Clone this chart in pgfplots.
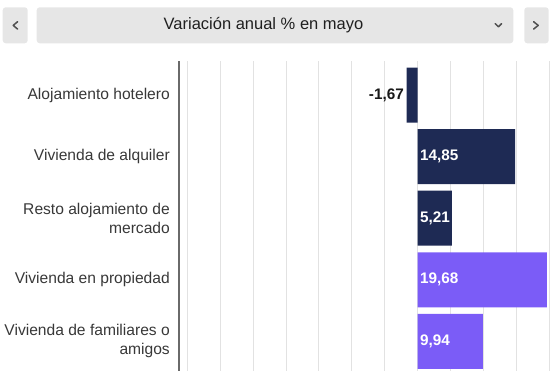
\documentclass[border=0pt]{standalone}
\usepackage{pgfplots}
\pgfplotsset{compat=1.18}
\usepackage{fontspec}
\setmainfont{Liberation Sans}
\definecolor{navy}{HTML}{1E2A54}
\definecolor{violet}{HTML}{7B5CF7}
\definecolor{btn}{HTML}{E6E6E6}
\definecolor{lbl}{HTML}{383838}
\definecolor{gridc}{HTML}{E2E2E2}
\definecolor{axc}{HTML}{6A6A6A}
\definecolor{chev}{HTML}{505050}
\begin{document}
\begin{tikzpicture}
\path[use as bounding box] (0pt,0pt) rectangle (560pt,371pt);
% header
\fill[btn, rounded corners=3pt] (2.7pt,327.7pt) rectangle (27.7pt,363.7pt);
\fill[btn, rounded corners=3pt] (36.7pt,327.7pt) rectangle (513.3pt,363.7pt);
\fill[btn, rounded corners=3pt] (524.3pt,327.7pt) rectangle (548.7pt,363.7pt);
\draw[chev, line width=1.5pt, line cap=round, line join=round] (17.6pt,349.3pt) -- (13.2pt,345.6pt) -- (17.6pt,341.9pt);
\draw[chev, line width=1.5pt, line cap=round, line join=round] (533.6pt,349.3pt) -- (538.2pt,345.6pt) -- (533.6pt,341.9pt);
\draw[chev, line width=1.5pt, line cap=round, line join=round] (495.2pt,347.4pt) -- (498.4pt,344.2pt) -- (501.6pt,347.4pt);
\node[font=\fontsize{16.5}{20}\selectfont, text=black!88, inner sep=0pt] at (263.5pt,345.6pt) {Variación anual \% en mayo};
\begin{axis}[
  at={(179pt,0pt)}, anchor=south west,
  scale only axis, width=381pt, height=310pt,
  xmin=-36.27, xmax=21.67,
  ymin=-0.556, ymax=4.483, y dir=reverse,
  xtick={-35,-30,...,20}, xticklabels={},
  xmajorgrids, ymajorgrids=false,
  major grid style={gridc, line width=0.9pt},
  ytick={0,1,2,3,4},
  yticklabels={Alojamiento hotelero, Vivienda de alquiler, {Resto alojamiento de\\mercado}, Vivienda en propiedad, {Vivienda de familiares o\\amigos}},
  tick style={draw=none},
  major tick length=0pt,
  yticklabel style={font=\fontsize{15.6}{19}\selectfont, text=lbl, align=right, anchor=east, inner sep=0pt, xshift=-9pt},
  axis line style={draw=none},
  clip=false,
]
\addplot[xbar, bar width=0.894, bar shift=0pt, fill=navy, draw=none] coordinates {(-1.67,0) (14.85,1) (5.21,2)};
\addplot[xbar, bar width=0.894, bar shift=0pt, fill=violet, draw=none] coordinates {(19.68,3) (9.94,4)};
\addplot[draw=none, mark=none, nodes near coords, point meta=explicit symbolic,
  every node near coord/.append style={anchor=west, text=white, font=\bfseries\fontsize{15.3}{18}\selectfont, inner xsep=2.5pt, inner ysep=0pt}]
  table[meta=lab] {
x y lab
0 1 14,85
0 2 5,21
0 3 19,68
0 4 9,94
};
\addplot[draw=none, mark=none, nodes near coords, point meta=explicit symbolic,
  every node near coord/.append style={anchor=east, text=black!90, font=\bfseries\fontsize{15.3}{18}\selectfont, inner xsep=2.5pt, inner ysep=0pt}]
  table[meta=lab] {
x y lab
-1.67 0 -1,67
};
\draw[axc, line width=2.2pt] (rel axis cs:0,0) -- (rel axis cs:0,1);
\end{axis}
\end{tikzpicture}
\end{document}
